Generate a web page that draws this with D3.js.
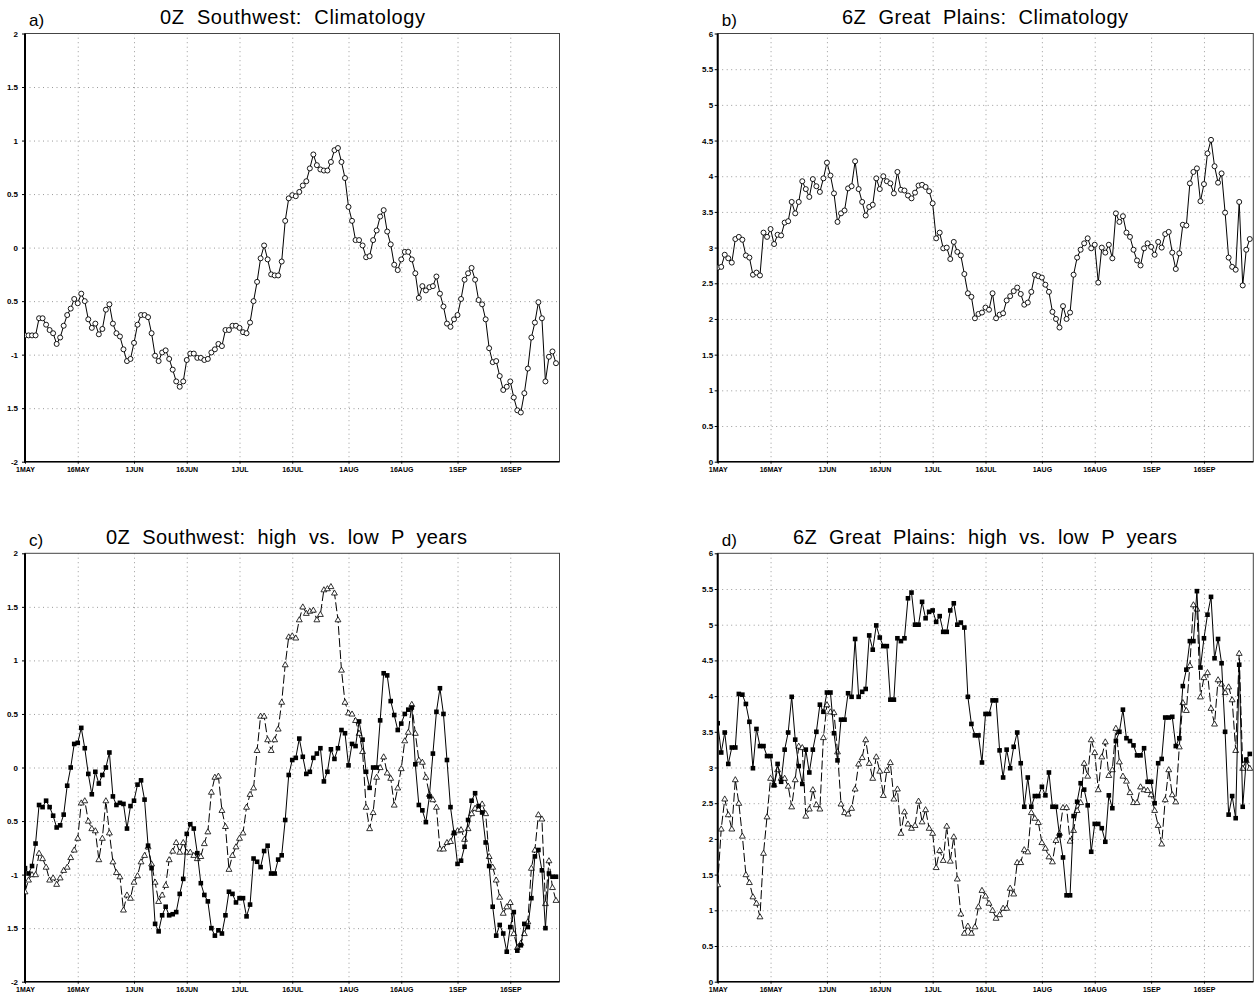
<!DOCTYPE html>
<html>
<head>
<meta charset="utf-8">
<script src="https://cdn.jsdelivr.net/npm/d3@7"></script>
<style>
  body { margin: 0; background: #fff; }
  svg { display: block; font-family: "Liberation Sans", Arial, sans-serif; }
</style>
</head>
<body>
<svg id="chart" width="1256" height="996"></svg>
<script>

/* Data
-------------------------------------------------------------------------------------------------*/
const SEASON_START = Date.UTC(2001, 4, 1)
const SEASON_END = Date.UTC(2001, 8, 30)
const DAY = 864e5

const xTickDays = ["2001-05-01", "2001-05-16", "2001-06-01", "2001-06-16", "2001-07-01",
  "2001-07-16", "2001-08-01", "2001-08-16", "2001-09-01", "2001-09-16"]

const swTicks = [-2, -1.5, -1, -0.5, 0, 0.5, 1, 1.5, 2]
const swTickLabels = ["-2", "1.5", "-1", "0.5", "0", "0.5", "1", "1.5", "2"]
const gpTicks = [0, 0.5, 1, 1.5, 2, 2.5, 3, 3.5, 4, 4.5, 5, 5.5, 6]
const gpTickLabels = ["0", "0.5", "1", "1.5", "2", "2.5", "3", "3.5", "4", "4.5", "5", "5.5", "6"]

// one value per day, 1 May -> 30 Sep
const swClim = [-0.82,
  -0.82,-0.82,-0.82,-0.66,-0.66,-0.72,-0.77,-0.80,-0.90,-0.84,
  -0.73,-0.63,-0.57,-0.48,-0.52,-0.43,-0.50,-0.67,-0.75,-0.71,
  -0.81,-0.76,-0.58,-0.53,-0.71,-0.80,-0.83,-0.95,-1.06,-1.04,
  -0.89,-0.72,-0.63,-0.63,-0.65,-0.80,-1.01,-1.06,-0.98,-0.96,
  -1.04,-1.14,-1.25,-1.30,-1.25,-1.05,-0.99,-0.99,-1.03,-1.03,
  -1.05,-1.04,-0.98,-0.95,-0.90,-0.92,-0.77,-0.77,-0.73,-0.73,
  -0.75,-0.79,-0.80,-0.70,-0.50,-0.32,-0.10,0.02,-0.11,-0.25,
  -0.26,-0.26,-0.13,0.25,0.46,0.49,0.48,0.52,0.58,0.62,
  0.74,0.87,0.77,0.73,0.72,0.72,0.80,0.91,0.93,0.80,
  0.65,0.38,0.25,0.07,0.07,0.02,-0.09,-0.08,0.07,0.16,
  0.29,0.35,0.15,0.03,-0.16,-0.21,-0.11,-0.04,-0.04,-0.11,
  -0.24,-0.47,-0.36,-0.40,-0.37,-0.36,-0.27,-0.43,-0.55,-0.71,
  -0.74,-0.67,-0.63,-0.48,-0.30,-0.24,-0.19,-0.30,-0.49,-0.53,
  -0.67,-0.94,-1.07,-1.06,-1.20,-1.33,-1.30,-1.25,-1.40,-1.52,
  -1.54,-1.36,-1.13,-0.84,-0.70,-0.51,-0.66,-1.25,-1.02,-0.97,-1.08]

const gpClim = [2.72,
  2.73,2.90,2.85,2.79,3.12,3.15,3.11,2.89,2.86,2.62,
  2.65,2.61,3.21,3.15,3.26,3.05,3.18,3.17,3.35,3.37,
  3.64,3.48,3.64,3.93,3.82,3.71,3.96,3.86,3.78,3.97,
  4.19,4.01,3.76,3.36,3.48,3.52,3.83,3.86,4.21,3.82,
  3.64,3.45,3.57,3.60,3.97,3.82,4.00,3.93,3.90,3.76,
  4.06,3.81,3.80,3.73,3.69,3.77,3.87,3.88,3.85,3.79,
  3.62,3.13,3.21,2.99,3.00,2.84,3.08,2.94,2.89,2.63,
  2.36,2.31,2.01,2.07,2.09,2.16,2.13,2.36,2.01,2.06,
  2.08,2.26,2.32,2.39,2.44,2.35,2.20,2.23,2.38,2.62,
  2.60,2.58,2.48,2.38,2.10,2.00,1.88,2.18,2.00,2.09,
  2.62,2.86,2.97,3.06,3.13,2.99,3.04,2.51,3.00,2.93,
  3.04,2.85,3.48,3.36,3.44,3.21,3.15,2.97,2.82,2.75,
  2.99,3.06,3.01,2.90,3.08,3.00,3.19,3.22,2.93,2.70,
  2.92,3.32,3.31,3.90,4.06,4.11,3.65,3.89,4.32,4.51,
  4.14,3.91,4.04,3.49,2.86,2.73,2.69,3.64,2.47,2.97,3.12]

// solid line, filled squares
const swSquares = [-0.94,
  -0.99,-0.92,-0.71,-0.35,-0.37,-0.31,-0.37,-0.45,-0.56,-0.54,
  -0.44,-0.17,0.00,0.22,0.23,0.37,0.18,-0.06,-0.25,-0.04,
  -0.15,-0.07,0.00,0.14,-0.27,-0.35,-0.33,-0.34,-0.57,-0.36,
  -0.31,-0.16,-0.12,-0.30,-0.73,-0.94,-1.46,-1.53,-1.38,-1.30,
  -1.38,-1.37,-1.35,-1.18,-1.04,-0.62,-0.53,-0.57,-0.80,-1.08,
  -1.19,-1.25,-1.50,-1.57,-1.52,-1.55,-1.38,-1.16,-1.18,-1.26,
  -1.22,-1.22,-1.39,-1.28,-0.85,-0.88,-0.93,-0.78,-0.73,-0.99,
  -0.99,-0.86,-0.82,-0.49,-0.07,0.07,0.09,0.27,0.10,-0.06,
  -0.04,0.09,0.13,0.18,-0.13,-0.04,0.17,0.08,0.18,0.35,
  0.32,0.02,0.22,0.20,0.43,0.26,-0.04,-0.19,0.00,0.00,
  0.44,0.88,0.86,0.62,0.49,0.35,0.41,0.50,0.54,0.56,
  0.03,-0.35,-0.40,-0.51,-0.27,0.13,0.52,0.74,0.50,0.07,
  -0.37,-0.61,-0.90,-0.87,-0.74,-0.49,-0.31,-0.24,-0.36,-0.42,
  -0.70,-0.92,-1.30,-1.57,-1.47,-1.55,-1.72,-1.49,-1.35,-1.71,
  -1.66,-1.46,-1.49,-1.22,-0.83,-0.77,-0.96,-1.50,-0.99,-1.02,-1.02]

// dashed line, open triangles
const swTriangles = [-1.16,
  -1.05,-1.00,-1.00,-0.80,-0.85,-0.93,-1.05,-1.03,-1.09,-1.03,
  -0.96,-0.93,-0.84,-0.77,-0.66,-0.33,-0.31,-0.50,-0.57,-0.59,
  -0.86,-0.66,-0.31,-0.61,-0.88,-0.98,-1.02,-1.33,-1.19,-1.22,
  -1.07,-1.01,-0.88,-0.82,-0.74,-0.90,-1.07,-1.25,-1.19,-1.10,
  -0.86,-0.78,-0.70,-0.79,-0.70,-0.79,-0.79,-0.82,-0.85,-0.83,
  -0.71,-0.60,-0.23,-0.09,-0.08,-0.40,-0.55,-0.95,-0.82,-0.74,
  -0.66,-0.61,-0.37,-0.25,-0.19,0.16,0.48,0.48,0.26,0.16,
  0.26,0.36,0.61,0.96,1.22,1.23,1.21,1.38,1.50,1.44,
  1.46,1.47,1.38,1.43,1.66,1.67,1.69,1.63,1.38,0.91,
  0.61,0.51,0.50,0.44,0.32,0.15,-0.37,-0.57,-0.42,-0.09,
  0.00,0.10,-0.05,-0.10,-0.35,-0.19,-0.01,0.25,0.33,0.59,
  0.32,0.07,0.05,-0.09,-0.25,-0.30,-0.37,-0.76,-0.76,-0.70,
  -0.69,-0.61,-0.59,-0.58,-0.67,-0.57,-0.43,-0.38,-0.39,-0.34,
  -0.43,-0.83,-0.93,-1.05,-1.21,-1.36,-1.30,-1.26,-1.55,-1.68,
  -1.64,-1.55,-1.44,-0.94,-0.77,-0.44,-0.48,-1.27,-0.87,-1.12,-1.24]

const gpSquares = [3.62,
  3.21,3.49,3.05,3.28,3.28,4.03,4.02,3.89,3.64,2.99,
  3.54,3.30,3.30,3.16,3.16,2.75,3.05,2.80,3.25,3.49,
  3.99,3.39,3.02,2.77,3.25,2.93,3.25,3.50,3.88,3.78,
  4.05,4.05,3.48,3.10,3.67,3.67,4.04,3.99,4.80,3.99,
  4.06,4.10,4.85,4.65,4.99,4.82,4.70,4.70,3.95,3.95,
  4.81,4.77,4.81,5.37,5.45,5.00,5.00,5.32,5.09,5.18,
  5.20,5.04,5.12,4.90,4.90,5.20,5.30,5.00,5.03,4.96,
  3.99,3.61,3.45,3.45,3.07,3.75,3.75,3.94,3.94,3.24,
  2.86,3.25,2.99,3.29,3.49,3.06,2.45,2.86,2.45,2.60,
  2.60,2.73,2.61,2.93,2.45,2.45,2.05,1.74,1.21,1.21,
  2.32,2.52,2.78,2.69,2.47,1.82,2.21,2.21,2.15,1.96,
  2.61,2.43,3.37,3.50,3.81,3.41,3.37,3.31,3.17,3.17,
  3.27,2.80,2.80,2.50,3.06,3.12,3.70,3.70,3.71,3.30,
  3.41,4.14,4.37,4.77,4.77,5.47,4.40,4.81,5.14,5.39,
  4.53,4.80,4.46,3.50,2.34,2.60,2.29,4.44,2.45,3.11,3.19]

const gpTriangles = [1.36,
  2.14,2.56,2.34,2.14,2.83,2.50,2.04,1.50,1.39,1.19,
  1.10,0.91,1.80,2.31,2.85,2.76,2.97,2.85,2.85,2.74,
  2.45,2.83,3.30,3.28,2.32,2.42,2.69,2.48,2.42,3.42,
  3.88,3.78,3.77,3.22,2.49,2.37,2.35,2.43,2.70,3.05,
  3.14,3.39,3.06,2.85,3.15,2.95,2.61,2.96,3.07,2.56,
  2.70,2.08,2.38,2.21,2.15,2.19,2.53,2.24,2.41,2.15,
  2.08,1.60,1.84,1.70,2.18,1.69,2.03,1.44,0.95,0.68,
  0.78,0.68,0.77,1.05,1.28,1.20,1.10,1.00,0.89,0.94,
  1.03,1.03,1.31,1.23,1.67,1.67,1.85,1.82,2.37,2.29,
  2.23,1.95,1.87,1.75,1.68,1.98,2.08,2.44,2.44,1.97,
  2.12,2.40,2.51,3.06,2.88,3.39,3.21,2.69,3.15,3.36,
  2.89,2.97,3.55,3.08,2.88,2.81,2.65,2.51,2.51,2.73,
  2.69,2.68,2.62,2.40,2.19,1.93,2.55,2.97,2.62,2.52,
  3.29,3.91,3.80,4.43,5.28,5.22,3.99,4.26,4.33,3.83,
  3.61,4.23,4.17,4.05,4.13,3.95,3.24,4.60,2.99,3.10,2.99]


/* Panels
-------------------------------------------------------------------------------------------------*/
const panels = [
  {id: "a", label: "a)", title: "0Z  Southwest:  Climatology", titleX: 160, titleW: 265, base: 0,
    box: {left: 25, right: 559.5, top: 33.5, bottom: 461.7}, yDomain: [-2, 2], yTicks: swTicks, yLabels: swTickLabels,
    labelPad: 4, series: [{values: swClim, marker: "circle"}]},
  {id: "b", label: "b)", title: "6Z  Great  Plains:  Climatology", titleX: 842, titleW: 286, base: 0,
    box: {left: 717.7, right: 1253.3, top: 33.5, bottom: 461.7}, yDomain: [0, 6], yTicks: gpTicks, yLabels: gpTickLabels,
    labelPad: 1.5, series: [{values: gpClim, marker: "circle"}]},
  {id: "c", label: "c)", title: "0Z  Southwest:  high  vs.  low  P  years", titleX: 106, titleW: 361, base: 520,
    box: {left: 25, right: 559.5, top: 553.3, bottom: 981.7}, yDomain: [-2, 2], yTicks: swTicks, yLabels: swTickLabels,
    labelPad: 4, series: [{values: swTriangles, marker: "triangle", dash: "9,3"}, {values: swSquares, marker: "square"}]},
  {id: "d", label: "d)", title: "6Z  Great  Plains:  high  vs.  low  P  years", titleX: 793, titleW: 384, base: 520,
    box: {left: 717.7, right: 1253.3, top: 553.3, bottom: 981.7}, yDomain: [0, 6], yTicks: gpTicks, yLabels: gpTickLabels,
    labelPad: 1.5, series: [{values: gpTriangles, marker: "triangle", dash: "9,3"}, {values: gpSquares, marker: "square"}]}
]

const svg = d3.select("#chart")
const xTicks = xTickDays.map(d3.utcParse("%Y-%m-%d"))
const dateAt = i => new Date(SEASON_START + i * DAY)
const tickFormat = d => d3.utcFormat("%-d%b")(d).toUpperCase()

panels.forEach(drawPanel)

function drawPanel(p) {

  const {left, right, top, bottom} = p.box
  const x = d3.scaleUtc().domain([SEASON_START, SEASON_END]).range([left, right])
  const y = d3.scaleLinear().domain(p.yDomain).range([bottom, top])
  const g = svg.append("g")

  g.append("clipPath").attr("id", "clip-" + p.id)
    .append("rect").attr("x", left).attr("y", top).attr("width", right - left).attr("height", bottom - top)

  /* Grille pointillée */
  g.append("g")
    .attr("transform", "translate(0," + bottom + ")")
    .call(d3.axisBottom(x).tickValues(xTicks.slice(1)).tickSize(-(bottom - top)).tickFormat(""))
    .call(s => s.select(".domain").remove())
    .selectAll("line").attr("stroke", "#9a9a9a").attr("stroke-dasharray", "1,3.5")

  g.append("g")
    .attr("transform", "translate(" + left + ",0)")
    .call(d3.axisLeft(y).tickValues(p.yTicks.slice(1, -1)).tickSize(-(right - left)).tickFormat(""))
    .call(s => s.select(".domain").remove())
    .selectAll("line").attr("stroke", "#9a9a9a").attr("stroke-dasharray", "1,3.5")

  /* Axes */
  g.append("g")
    .attr("transform", "translate(" + left + ",0)")
    .call(d3.axisLeft(y).tickValues(p.yTicks).tickFormat((d, i) => p.yLabels[i]).tickSize(3).tickPadding(p.labelPad))
    .call(s => s.select(".domain").remove())
    .attr("font-family", null).attr("font-size", 8).attr("font-weight", "bold")

  g.append("g")
    .attr("transform", "translate(0," + bottom + ")")
    .call(d3.axisBottom(x).tickValues(xTicks).tickFormat(tickFormat).tickSize(2).tickPadding(3))
    .call(s => s.select(".domain").remove())
    .attr("font-family", null).attr("font-size", 7).attr("font-weight", "bold")

  g.append("rect")
    .attr("x", left).attr("y", top).attr("width", right - left).attr("height", bottom - top)
    .attr("fill", "none").attr("stroke", "#444").attr("stroke-width", 1)

  g.append("line").attr("x1", left).attr("x2", left).attr("y1", top).attr("y2", bottom + 1)
    .attr("stroke", "#000").attr("stroke-width", 2)
  g.append("line").attr("x1", left).attr("x2", right).attr("y1", bottom).attr("y2", bottom)
    .attr("stroke", "#000").attr("stroke-width", 1.5)

  /* Courbes */
  const line = d3.line().x((d, i) => x(dateAt(i))).y(d => y(d))

  p.series.forEach(s => {
    const layer = g.append("g").attr("clip-path", "url(#clip-" + p.id + ")")

    layer.append("path")
      .datum(s.values)
      .attr("fill", "none")
      .attr("stroke", "#000")
      .attr("stroke-width", 1)
      .attr("stroke-dasharray", s.dash || null)
      .attr("d", line)

    if (s.marker === "circle")
      layer.selectAll("circle").data(s.values).join("circle")
        .attr("cx", (d, i) => x(dateAt(i)))
        .attr("cy", d => y(d))
        .attr("r", 2.5)
        .attr("fill", "#fff").attr("stroke", "#000").attr("stroke-width", 0.9)

    if (s.marker === "square")
      layer.selectAll("rect").data(s.values).join("rect")
        .attr("x", (d, i) => x(dateAt(i)) - 2.3)
        .attr("y", d => y(d) - 2.3)
        .attr("width", 4.6).attr("height", 4.6)
        .attr("fill", "#000")

    if (s.marker === "triangle")
      layer.selectAll("path.tri").data(s.values).join("path")
        .attr("class", "tri")
        .attr("d", d3.symbol(d3.symbolTriangle, 15))
        .attr("transform", (d, i) => "translate(" + x(dateAt(i)) + "," + (y(d) + 0.4) + ")")
        .attr("fill", "#fff").attr("stroke", "#000").attr("stroke-width", 0.8)
  })

  /* Titres */
  g.append("text")
    .attr("x", left + 4).attr("y", 26 + p.base)
    .attr("font-size", 17)
    .text(p.label)

  g.append("text")
    .attr("x", p.titleX).attr("y", 24 + p.base)
    .attr("font-size", 20)
    .attr("textLength", p.titleW).attr("lengthAdjust", "spacing")
    .style("white-space", "pre")
    .text(p.title)
}

</script>
</body>
</html>
